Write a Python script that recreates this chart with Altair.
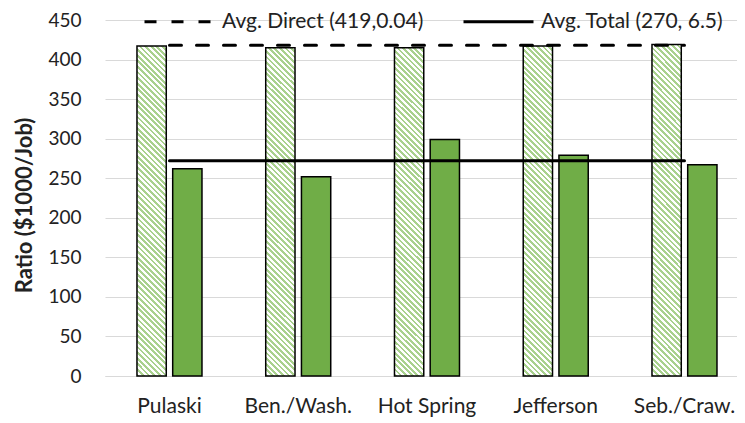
import altair as alt
import pandas as pd

categories = ["Pulaski", "Ben./Wash.", "Hot Spring", "Jefferson", "Seb./Craw."]
direct_ratio = [417, 415, 415, 417, 419]
total_ratio = [262, 252, 299, 279, 267]
avg_direct = [418, 418, 418, 418, 418]
avg_total = [272, 272, 272, 272, 272]
avg_direct_label = "Avg. Direct (419,0.04)"
avg_total_label = "Avg. Total (270, 6.5)"
y_ticks = [0, 50, 100, 150, 200, 250, 300, 350, 400, 450]
series = ["Direct", "Total"]

bars = pd.DataFrame({
    "cat": categories * 2,
    "series": [series[0]] * 5 + [series[1]] * 5,
    "value": direct_ratio + total_ratio,
})
lines = pd.DataFrame({
    "cat": categories * 2,
    "avg": [avg_direct_label] * 5 + [avg_total_label] * 5,
    "value": avg_direct + avg_total,
})

# layout styling
W, H = 632, 356
Y_MAX = 450
pI, pO, align = 0.4951, 0.2019, 0.615
off_pI = 0.18
step = W / (5 - pI + 2 * pO)
group = step * (1 - pI)
bw = group / (2 - off_pI) * (1 - off_pI)
bh = sum(direct_ratio) / 5 / Y_MAX * H

# diagonal hatch via linear gradient (bbox units), stripe count aligned to 256-entry table
n_stripes = 64
frac = 0.5
span = bw + bh
s = span / (bw ** 2 + bh ** 2)
green = "#a9d18e"
stops = []
for k in range(n_stripes):
    t0 = k / n_stripes
    t1 = (k + frac) / n_stripes
    t2 = (k + 1) / n_stripes
    stops += [{"offset": t0, "color": green}, {"offset": t1, "color": green},
              {"offset": t1, "color": "white"}, {"offset": t2, "color": "white"}]
hatch = {"gradient": "linear", "x1": 0, "y1": 1, "x2": bw * s, "y2": 1 - bh * s,
         "stops": stops}

x_enc = alt.X("cat:N", sort=categories, title=None,
              scale=alt.Scale(paddingInner=pI, paddingOuter=pO, align=align),
              axis=alt.Axis(labelAngle=0, ticks=False, tickSize=0, labelPadding=19,
                            labelFontSize=21,
                            domainColor="#d9d9d9", domainWidth=1, grid=False))
xo_enc = alt.XOffset("series:N", scale=alt.Scale(domain=series, paddingInner=off_pI, paddingOuter=0))
y_enc = alt.Y("value:Q", scale=alt.Scale(domain=[0, Y_MAX], nice=False, zero=True),
              axis=alt.Axis(values=y_ticks, title="Ratio ($1000/Job)", ticks=False, tickSize=0,
                            domain=False, labelPadding=24, gridColor="#d9d9d9", gridWidth=1,
                            labelFontSize=19, titleFontSize=22,
                            titleX=-81, titleY=185, titleBaseline="middle", titleAngle=270))

hatched = alt.Chart(bars).transform_filter(alt.datum.series == "Direct").mark_bar(
    fill=hatch, stroke="black", strokeWidth=1.5
).encode(x=x_enc, xOffset=xo_enc, y=y_enc)

solid = alt.Chart(bars).transform_filter(alt.datum.series == "Total").mark_bar(
    fill="#70ad47", stroke="black", strokeWidth=1.5
).encode(x=x_enc, xOffset=xo_enc, y=y_enc)

avg_lines = alt.Chart(lines).mark_line(color="black", strokeWidth=3, strokeCap="round").encode(
    x=x_enc, y=y_enc,
    strokeDash=alt.StrokeDash("avg:N",
        scale=alt.Scale(domain=[avg_direct_label, avg_total_label], range=[[12, 15], [1, 0]]),
        legend=alt.Legend(orient="none", legendX=38, legendY=-35, direction="horizontal",
                          title=None, symbolType="stroke", symbolSize=4900, symbolStrokeWidth=3,
                          symbolStrokeColor="black", labelFontSize=21, labelFont="Lato",
                          labelColor="#222222", labelLimit=400, columnPadding=33, labelOffset=6)),
)

chart = alt.layer(hatched, solid, avg_lines).properties(
    width=W, height=H,
    autosize=alt.AutoSizeParams(type="none"),
    padding={"left": 97, "top": 12, "right": 0, "bottom": 42},
).configure_view(stroke=None).configure_axis(
    labelFont="Lato", labelFontSize=20, labelColor="#222222",
    titleFont="Lato", titleFontSize=20, titleFontWeight="bold", titleColor="#222222",
)

chart.save("out.html", embed_options={"renderer": "svg", "actions": False})
